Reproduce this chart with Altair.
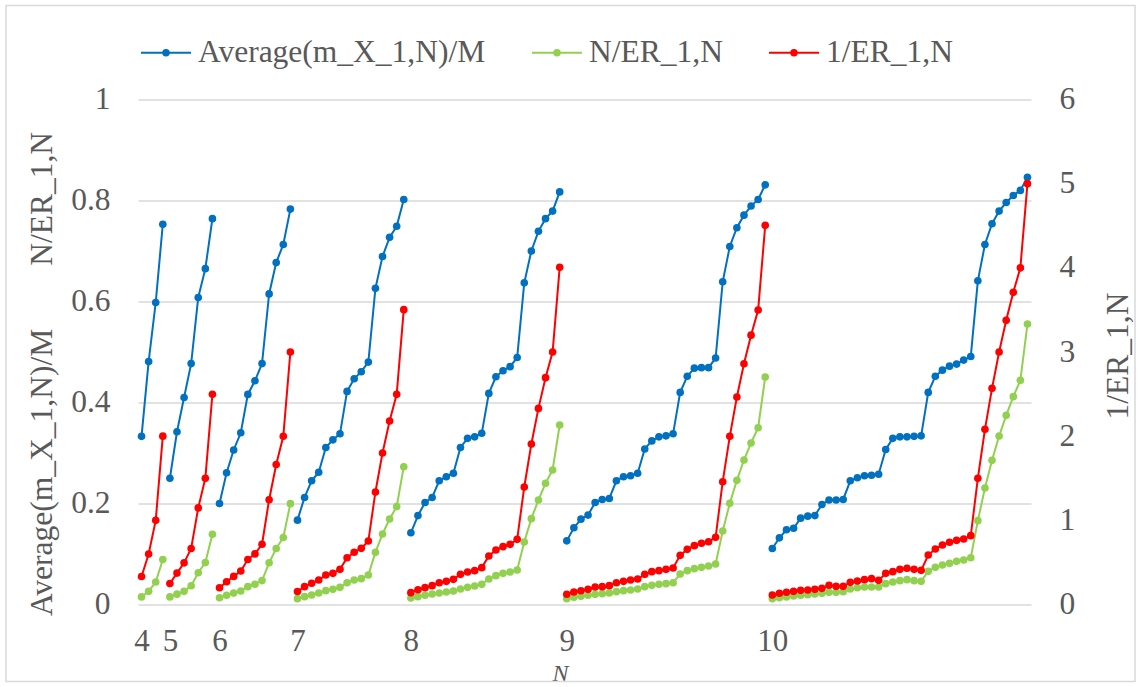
import altair as alt
import pandas as pd

# Group sizes grow with N; each group is plotted as its own run of categories.
GROUP_N = [4, 5, 6, 7, 8, 9, 10]

# Average(m_X_1,N)/M  (left axis)
avg_m = [
    [0.333, 0.481, 0.598, 0.753],
    [0.250, 0.342, 0.410, 0.477, 0.608, 0.665, 0.764],
    [0.200, 0.261, 0.306, 0.340, 0.416, 0.443, 0.477, 0.615, 0.677, 0.713, 0.783],
    [0.167, 0.212, 0.245, 0.262, 0.311, 0.326, 0.338, 0.422, 0.447, 0.461, 0.480,
     0.626, 0.689, 0.727, 0.749, 0.802],
    [0.142, 0.176, 0.202, 0.212, 0.245, 0.253, 0.260, 0.311, 0.329, 0.332, 0.339,
     0.418, 0.451, 0.463, 0.471, 0.489, 0.637, 0.700, 0.739, 0.764, 0.779, 0.817],
    [0.126, 0.152, 0.169, 0.177, 0.202, 0.208, 0.210, 0.245, 0.253, 0.255, 0.260,
     0.308, 0.324, 0.332, 0.334, 0.338, 0.420, 0.452, 0.468, 0.469, 0.469, 0.488,
     0.639, 0.709, 0.746, 0.771, 0.789, 0.802, 0.831],
    [0.111, 0.132, 0.148, 0.151, 0.171, 0.175, 0.176, 0.198, 0.207, 0.207, 0.208,
     0.245, 0.251, 0.255, 0.256, 0.258, 0.307, 0.329, 0.332, 0.332, 0.333, 0.334,
     0.420, 0.452, 0.464, 0.472, 0.476, 0.484, 0.491, 0.641, 0.713, 0.754, 0.779,
     0.796, 0.810, 0.820, 0.846],
]

# N/ER_1,N  (left axis)
n_over_er = [
    [0.015, 0.026, 0.0445, 0.089],
    [0.015, 0.0205, 0.026, 0.037, 0.063, 0.083, 0.139],
    [0.0134, 0.0183, 0.0226, 0.0268, 0.0353, 0.0402, 0.0473, 0.0826, 0.111, 0.1327, 0.1997],
    [0.0116, 0.0155, 0.0188, 0.0228, 0.0274, 0.030, 0.034, 0.0432, 0.0485, 0.0512,
     0.0584, 0.1033, 0.1396, 0.1693, 0.1937, 0.2729],
    [0.0129, 0.0155, 0.0182, 0.0208, 0.0228, 0.0248, 0.0267, 0.0307, 0.034, 0.0366,
     0.0399, 0.0505, 0.0571, 0.0617, 0.0644, 0.0683, 0.1238, 0.170, 0.2069, 0.240,
     0.2663, 0.3554],
    [0.0116, 0.0142, 0.0162, 0.0182, 0.0201, 0.0215, 0.0228, 0.0254, 0.0274, 0.0287,
     0.0307, 0.0353, 0.038, 0.040, 0.0413, 0.0432, 0.0604, 0.067, 0.071, 0.0736,
     0.0762, 0.0802, 0.1455, 0.2003, 0.2459, 0.2861, 0.3198, 0.350, 0.4505],
    [0.0116, 0.0135, 0.0149, 0.0168, 0.0182, 0.0195, 0.0208, 0.0221, 0.0241, 0.0241,
     0.0254, 0.0307, 0.0333, 0.0347, 0.0347, 0.0347, 0.0413, 0.0446, 0.0472, 0.0492,
     0.0472, 0.0459, 0.0657, 0.0736, 0.0782, 0.0815, 0.0855, 0.0881, 0.0927, 0.166,
     0.2307, 0.2855, 0.3337, 0.3746, 0.4116, 0.4439, 0.5554],
]

# 1/ER_1,N  (right axis)
inv_er = [
    [0.333, 0.600, 1.000, 2.000],
    [0.250, 0.373, 0.495, 0.665, 1.148, 1.499, 2.498],
    [0.199, 0.271, 0.334, 0.398, 0.534, 0.601, 0.716, 1.245, 1.664, 1.999, 3.000],
    [0.155, 0.212, 0.252, 0.291, 0.350, 0.370, 0.418, 0.556, 0.620, 0.667, 0.754,
     1.337, 1.800, 2.180, 2.497, 3.503],
    [0.141, 0.176, 0.200, 0.224, 0.259, 0.275, 0.299, 0.358, 0.386, 0.402, 0.438,
     0.576, 0.647, 0.687, 0.715, 0.774, 1.396, 1.907, 2.330, 2.695, 3.000, 4.006],
    [0.121, 0.149, 0.164, 0.180, 0.208, 0.212, 0.224, 0.259, 0.275, 0.291, 0.303,
     0.358, 0.390, 0.402, 0.418, 0.434, 0.584, 0.655, 0.699, 0.727, 0.746, 0.798,
     1.459, 1.998, 2.465, 2.861, 3.200, 3.499, 4.505],
    [0.113, 0.133, 0.145, 0.156, 0.168, 0.172, 0.180, 0.192, 0.228, 0.216, 0.216,
     0.263, 0.279, 0.295, 0.307, 0.287, 0.370, 0.390, 0.418, 0.430, 0.418, 0.406,
     0.588, 0.659, 0.707, 0.739, 0.762, 0.778, 0.818, 1.499, 2.081, 2.568, 3.000,
     3.376, 3.709, 4.000, 5.000],
]

SERIES = ["Average(m_X_1,N)/M", "N/ER_1,N", "1/ER_1,N"]
COLORS = ["#0070C0", "#92D050", "#FF0000"]
LEFT_TICKS = [0, 0.2, 0.4, 0.6, 0.8, 1]
RIGHT_TICKS = [0, 1, 2, 3, 4, 5, 6]

FONT = "Liberation Serif"
GREY = "#595959"
GRID = "#D9D9D9"

# Long table: one row per category position and series
rows = []
starts = []
pos = 0
for n, a, g, r in zip(GROUP_N, avg_m, n_over_er, inv_er):
    starts.append(pos)
    for k in range(len(a)):
        rows.append({"i": pos, "N": n, "series": SERIES[0], "v": a[k]})
        rows.append({"i": pos, "N": n, "series": SERIES[1], "v": g[k]})
        rows.append({"i": pos, "N": n, "series": SERIES[2], "v": r[k]})
        pos += 1
df = pd.DataFrame(rows)

# category labels only at the first position of each N group
label_expr = "''"
for s, n in reversed(list(zip(starts, GROUP_N))):
    label_expr = f"datum.value == {s} ? '{n}' : ({label_expr})"

W, H = 893, 505

x_enc = alt.X(
    "i:Q",
    scale=alt.Scale(domain=[-0.5, pos - 0.5], nice=False, zero=False),
    axis=alt.Axis(
        values=starts, labelExpr=label_expr, grid=False, domain=False, ticks=False,
        labelFont=FONT, labelFontSize=31, labelColor=GREY, labelPadding=22,
        title="N", titleFont=FONT, titleFontSize=24, titleFontStyle="italic",
        titleFontWeight="normal", titleColor=GREY, titleX=422, titleY=76,
        titleAlign="center", titleBaseline="alphabetic",
    ),
)

# line symbol with a dot for the legend (dot drawn by nested strokes)
legend_symbol = (
    "M-1,0L1,0"
    "M-0.11,0A0.11,0.11,0,1,0,0.11,0A0.11,0.11,0,1,0,-0.11,0"
    "M-0.05,0A0.05,0.05,0,1,0,0.05,0A0.05,0.05,0,1,0,-0.05,0"
)

color_enc = alt.Color(
    "series:N",
    scale=alt.Scale(domain=SERIES, range=COLORS),
    title=None,
    legend=alt.Legend(
        orient="none", direction="horizontal", legendX=2, legendY=-73,
        symbolType=legend_symbol, symbolSize=2500, symbolStrokeWidth=2,
        labelFont=FONT, labelFontSize=31.5, labelColor=GREY, labelOffset=6,
        labelLimit=1000, columnPadding=42,
    ),
)

line_style = dict(strokeWidth=2, point=alt.OverlayMarkDef(filled=True, size=58, opacity=1))

left = (
    alt.Chart(df)
    .transform_filter(alt.datum.series != SERIES[2])
    .mark_line(**line_style)
    .encode(
        x=x_enc,
        y=alt.Y(
            "v:Q",
            scale=alt.Scale(domain=[0, 1], nice=False),
            axis=alt.Axis(
                values=LEFT_TICKS, format="~g", grid=True, gridColor=GRID, gridWidth=1.3,
                domain=False, ticks=False, labelFont=FONT, labelFontSize=31.5,
                labelColor=GREY, labelPadding=28,
                title="Average(m_X_1,N)/M" + "\u00a0" * 8 + "N/ER_1,N",
                titleFont=FONT, titleFontSize=31.5, titleFontWeight="normal",
                titleColor=GREY, titleAngle=270, titleX=-96, titleY=274,
                titleAlign="center", titleBaseline="middle",
            ),
        ),
        color=color_enc,
        detail="N:N",
    )
)

right = (
    alt.Chart(df)
    .transform_filter(alt.datum.series == SERIES[2])
    .mark_line(**line_style)
    .encode(
        x=x_enc,
        y=alt.Y(
            "v:Q",
            scale=alt.Scale(domain=[0, 6], nice=False),
            axis=alt.Axis(
                orient="right", values=RIGHT_TICKS, format="d", grid=False,
                domain=False, ticks=False, labelFont=FONT, labelFontSize=31.5,
                labelColor=GREY, labelPadding=28,
                title="1/ER_1,N", titleFont=FONT, titleFontSize=31.5,
                titleFontWeight="normal", titleColor=GREY, titleAngle=270,
                titleX=87, titleY=256, titleAlign="center", titleBaseline="middle",
            ),
        ),
        color=color_enc,
        detail="N:N",
    )
)

# thin frame around the whole chart area
frame = (
    alt.Chart(pd.DataFrame({"f": [0]}))
    .mark_rect(fillOpacity=0, stroke=GRID, strokeWidth=1.5)
    .encode(x=alt.value(-132), x2=alt.value(W + 104), y=alt.value(-94), y2=alt.value(H + 77))
)

chart = (
    alt.layer(frame, left, right)
    .resolve_scale(y="independent")
    .properties(
        width=W, height=H,
        autosize=alt.AutoSizeParams(type="none"),
        padding={"left": 138, "top": 99.5, "right": 110, "bottom": 82.5},
        background="white",
    )
    .configure_view(stroke="transparent")
)

chart.save("out.html", embed_options={"renderer": "svg", "actions": False})
